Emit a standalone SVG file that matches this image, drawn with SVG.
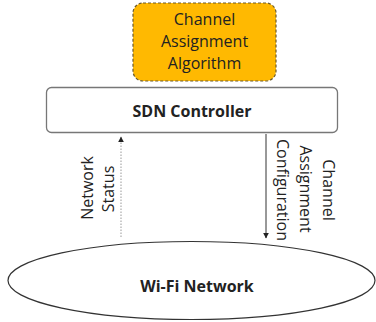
<svg xmlns="http://www.w3.org/2000/svg" width="376" height="322" viewBox="0 0 376 322">
<style>
  text { font-family: "Open Sans", "Noto Sans", "Liberation Sans", sans-serif; fill: #222; }
  .lbl { font-size: 16px; }
  .bold { font-size: 16px; font-weight: bold; }
</style>
<defs>
  <marker id="ah" viewBox="0 0 10 10" refX="9" refY="5" markerWidth="6" markerHeight="6" orient="auto" markerUnits="userSpaceOnUse">
    <path d="M0,0 L10,5 L0,10 z" fill="#222"/>
  </marker>
</defs>
<rect width="376" height="322" fill="#fff"/>
<g id="algorithm">
  <rect x="133" y="3" width="143" height="78" rx="10" ry="10" fill="#FFB901" stroke="#6b5a2a" stroke-width="1.2" stroke-dasharray="3,2"/>
  <text class="lbl" x="204.5" y="25" text-anchor="middle">Channel</text>
  <text class="lbl" x="204.5" y="47" text-anchor="middle">Assignment</text>
  <text class="lbl" x="204.5" y="69" text-anchor="middle">Algorithm</text>
</g>
<g id="controller">
  <rect x="46.5" y="87.5" width="291" height="45" rx="5" ry="5" fill="#fff" stroke="#777" stroke-width="1.3"/>
  <text class="bold" x="192" y="117" text-anchor="middle">SDN Controller</text>
</g>
<g id="wifi">
  <ellipse cx="191.5" cy="280.5" rx="183.5" ry="39" fill="#fff" stroke="#333" stroke-width="1.2"/>
  <text class="bold" x="197" y="292" text-anchor="middle">Wi-Fi Network</text>
</g>
<g id="connectors">
  <line x1="121" y1="237" x2="121" y2="137" stroke="#999" stroke-width="1" stroke-dasharray="1.5,1.5" marker-end="url(#ah)"/>
  <line x1="266" y1="134" x2="266" y2="238" stroke="#333" stroke-width="1" marker-end="url(#ah)"/>
</g>
<g id="labels">
  <text class="lbl" transform="translate(93,188) rotate(-90)" text-anchor="middle">Network</text>
  <text class="lbl" transform="translate(114,189) rotate(-90)" text-anchor="middle">Status</text>
  <text class="lbl" transform="translate(277,190) rotate(90)" text-anchor="middle">Configuration</text>
  <text class="lbl" transform="translate(300,189) rotate(90)" text-anchor="middle">Assignment</text>
  <text class="lbl" transform="translate(323,190) rotate(90)" text-anchor="middle">Channel</text>
</g>
</svg>
